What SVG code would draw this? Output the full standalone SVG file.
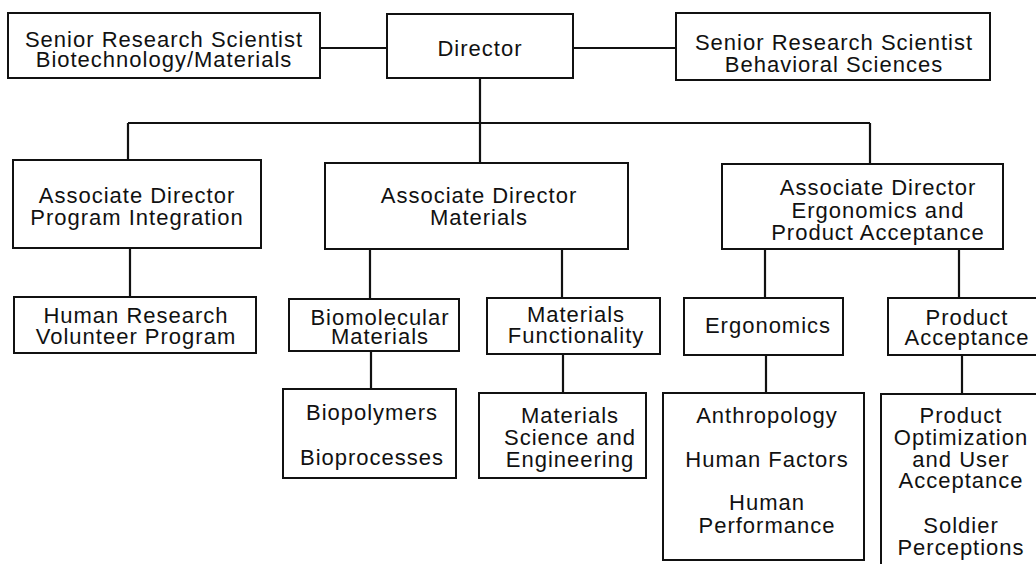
<svg xmlns="http://www.w3.org/2000/svg" width="1036" height="564" viewBox="0 0 1036 564">
<style>
.box{fill:#fff;stroke:#111;stroke-width:2}
.ln{stroke:#111;stroke-width:2.2;fill:none}
text{font-family:"Liberation Sans",Arial,sans-serif;font-size:22px;fill:#111;text-anchor:middle;letter-spacing:1px}
</style>
<rect width="1036" height="564" fill="#fff"/>
<g id="connectors">
<path class="ln" d="M320 48H387M573 48H676M480 78V123M128 123H870M128 123V160M480 123V163M870 123V164"/>
<path class="ln" d="M130 248V297M370 249V299M562 249V298M765 249V298M959 249V298"/>
<path class="ln" d="M371 351V389M563 354V393M766 355V393M962 355V394"/>
</g>
<g id="senior-bio"><rect class="box" x="8" y="13" width="312" height="65"/><text x="164" y="47">Senior Research Scientist</text><text x="164" y="67">Biotechnology/Materials</text></g>
<g id="director"><rect class="box" x="387" y="14" width="186" height="64"/><text x="480" y="56">Director</text></g>
<g id="senior-beh"><rect class="box" x="676" y="13" width="314" height="67"/><text x="834" y="50">Senior Research Scientist</text><text x="834" y="72">Behavioral Sciences</text></g>
<g id="ad-pi"><rect class="box" x="13" y="160" width="248" height="88"/><text x="137" y="203">Associate Director</text><text x="137" y="225">Program Integration</text></g>
<g id="ad-mat"><rect class="box" x="325" y="163" width="303" height="86"/><text x="479" y="203">Associate Director</text><text x="479" y="225">Materials</text></g>
<g id="ad-ergo"><rect class="box" x="722" y="164" width="281" height="85"/><text x="878" y="195">Associate Director</text><text x="878" y="218">Ergonomics and</text><text x="878" y="240">Product Acceptance</text></g>
<g id="hrvp"><rect class="box" x="14" y="297" width="242" height="56"/><text x="136" y="323">Human Research</text><text x="136" y="344">Volunteer Program</text></g>
<g id="biomol"><rect class="box" x="289" y="299" width="170" height="52"/><text x="380" y="325">Biomolecular</text><text x="380" y="344">Materials</text></g>
<g id="matfunc"><rect class="box" x="487" y="298" width="173" height="56"/><text x="576" y="322">Materials</text><text x="576" y="343">Functionality</text></g>
<g id="ergo"><rect class="box" x="684" y="298" width="159" height="57"/><text x="768" y="333">Ergonomics</text></g>
<g id="prodacc"><rect class="box" x="888" y="298" width="160" height="57"/><text x="967" y="325">Product</text><text x="967" y="345">Acceptance</text></g>
<g id="biopoly"><rect class="box" x="283" y="389" width="173" height="89"/><text x="372" y="420">Biopolymers</text><text x="372" y="465">Bioprocesses</text></g>
<g id="matsci"><rect class="box" x="479" y="393" width="167" height="85"/><text x="570" y="423">Materials</text><text x="570" y="445">Science and</text><text x="570" y="467">Engineering</text></g>
<g id="anthro"><rect class="box" x="663" y="393" width="201" height="167"/><text x="767" y="423">Anthropology</text><text x="767" y="467">Human Factors</text><text x="767" y="510">Human</text><text x="767" y="533">Performance</text></g>
<g id="prodopt"><rect class="box" x="881" y="394" width="170" height="180"/><text x="961" y="423">Product</text><text x="961" y="445">Optimization</text><text x="961" y="467">and User</text><text x="961" y="488">Acceptance</text><text x="961" y="533">Soldier</text><text x="961" y="555">Perceptions</text></g>
</svg>
